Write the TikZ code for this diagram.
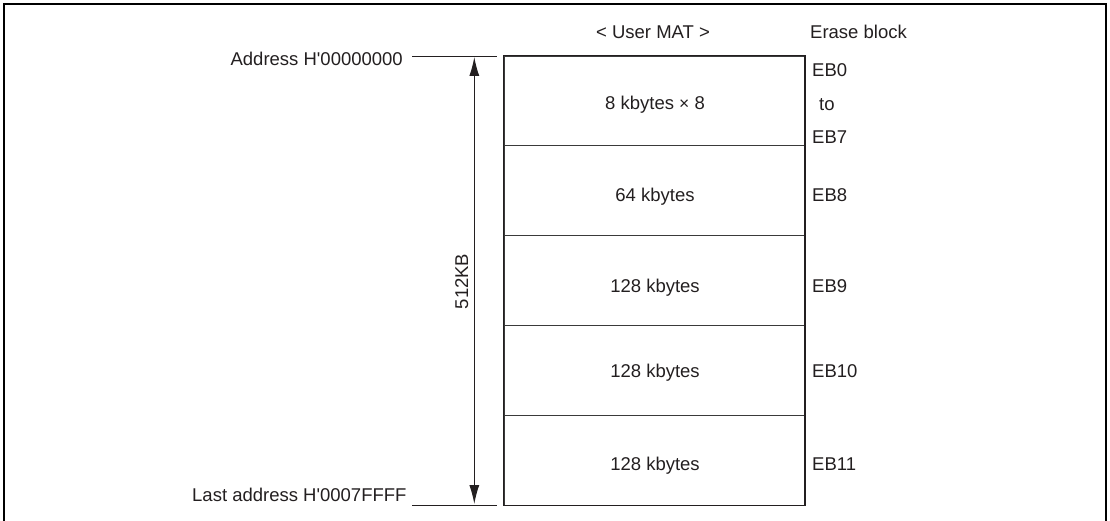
\documentclass[tikz,border=0pt]{standalone}
\usepackage{fontspec}
\setmainfont{Liberation Sans}
\usetikzlibrary{arrows.meta,positioning}
\definecolor{cInk}{HTML}{231F20}
\definecolor{cRule}{HTML}{3A3A3A}

\begin{document}
\begin{tikzpicture}[x=1pt, y=-1pt,
    txt/.style={font=\fontsize{18.5}{22}\selectfont, text=cInk, inner sep=0pt},
    blk/.style={draw=cRule, line width=0.8pt, inner sep=0pt, minimum width=300.5pt}]
\useasboundingbox (0,0) rectangle (1110,521);

% Outer frame (bottom edge runs off the page)
\draw[line width=2pt, black] (4,530) -- (4,4) -- (1105.5,4) -- (1105.5,530);

% Headings
\node[txt, anchor=base] (mat) at (653,38.5) {< User MAT >};
\node[txt, anchor=base west] (erase) at (810,38.5) {Erase block};

% Blocks of the user MAT
\foreach \n/\t/\b in {1/56/145, 2/145/235, 3/235/325, 4/325/415, 5/415/505} {
    \node[blk, minimum height={\b-\t}] (b\n) at (654.25,{(\t+\b)/2}) {};
}
\draw[line width=1.3pt, cInk] (b1.north west) rectangle (b5.south east);

% Block sizes
\foreach \n/\y/\l in {1/110/{8 kbytes {\fontsize{17.5}{17.5}\selectfont×} 8}, 2/202/{64 kbytes}, 3/292.7/{128 kbytes}, 4/377.3/{128 kbytes}, 5/470.7/{128 kbytes}} {
    \node[txt, anchor=base] (sz\n) at (655,\y) {\l};
}

% Erase block numbers
\node[txt, anchor=base west] (eb0) at (812,77) {EB0};
\node[txt, anchor=base west] (ebto) at (819,111) {to};
\node[txt, anchor=base west] (eb7) at (812,143.5) {EB7};
\foreach \n/\y in {8/202, 9/292.7, 10/377.3, 11/470.7} {
    \node[txt, anchor=base west] (eb\n) at (812,\y) {EB\n};
}

% Start and end addresses
\node[txt, anchor=base east] (first) at (403,66) {Address H\textquotesingle 00000000};
\node[txt, anchor=base east] (last) at (406.7,501) {Last address H\textquotesingle 0007FFFF};
\coordinate (firstL) at (412,56);
\coordinate (firstR) at (497,56);
\coordinate (lastL) at (412,505);
\coordinate (lastR) at (497,505);
\draw[line width=0.9pt, cInk] (firstL) -- (firstR);
\draw[line width=0.9pt, cInk] (lastL) -- (lastR);

% Size arrow
\coordinate (top) at (474.3,57);
\coordinate (bot) at (474.3,504);
\draw[line width=1pt, cInk, {Latex[length=19pt,width=10pt]}-{Latex[length=19pt,width=10pt]}] (top) -- (bot);
\node[txt, anchor=base, rotate=90] (size) at (468,281.5) {512KB};

\end{tikzpicture}
\end{document}
